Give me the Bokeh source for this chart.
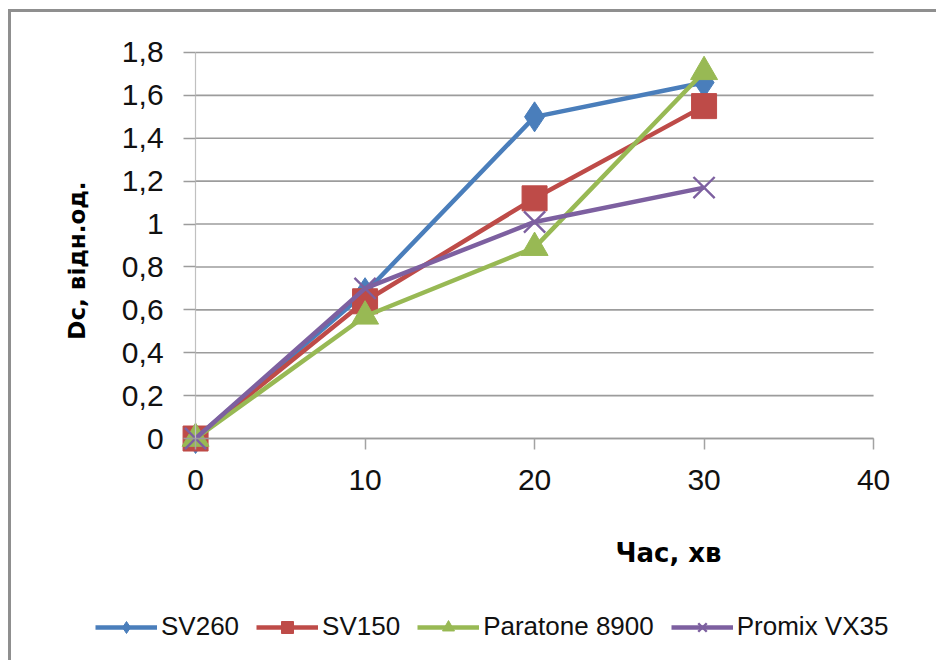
import math
from bokeh.plotting import figure
from bokeh.models import (FixedTicker, Label, Legend, LegendItem, Range1d)
from bokeh.embed import file_html
from bokeh.resources import INLINE

# ---- data ----
time_min = [0, 10, 20, 30]
sv260 = [0.0, 0.68, 1.50, 1.66]
sv150 = [0.0, 0.64, 1.12, 1.55]
paratone = [0.0, 0.57, 0.89, 1.71]
promix = [0.0, 0.70, 1.01, 1.17]

series_names = ["SV260", "SV150", "Paratone 8900", "Promix VX35"]
series_values = [sv260, sv150, paratone, promix]
series_colors = ["#4A7EBB", "#BE4B48", "#98B954", "#7D60A0"]
series_markers = ["diamond", "square", "triangle", "x"]
marker_sizes = [30, 25, 27, 30]

x_ticks = [0, 10, 20, 30, 40]
y_ticks = [0, 0.2, 0.4, 0.6, 0.8, 1.0, 1.2, 1.4, 1.6, 1.8]
y_tick_labels = ["0", "0,2", "0,4", "0,6", "0,8", "1", "1,2", "1,4", "1,6", "1,8"]

x_title = "Час, хв"
y_title = "Dc, відн.од."

FONT = "Liberation Sans"
TITLE_FONT = "DejaVu Sans"
GRID = "#9c9c9c"

# the plot frame fills the whole figure; axes are pinned at x=0 / y=0
p = figure(width=928, height=651, output_backend="svg", toolbar_location=None,
           x_range=Range1d(-10.86, 43.89), y_range=Range1d(-1.049, 1.9865),
           min_border=0, min_border_left=0, min_border_right=0,
           min_border_top=0, min_border_bottom=0)
p.styles = {"margin-left": "8px", "margin-top": "9px",
            "border-left": "3px solid #8f8f8f", "border-top": "3px solid #8f8f8f"}
p.outline_line_color = None
p.background_fill_color = "white"
p.border_fill_color = "white"
p.xgrid.visible = False
p.ygrid.visible = False

# horizontal gridlines spanning the x-axis extent
n = len(y_ticks)
p.segment(x0=[x_ticks[0]] * n, y0=y_ticks, x1=[x_ticks[-1]] * n, y1=y_ticks,
          line_color=GRID, line_width=1.6)

# y axis at x = 0
yax = p.yaxis[0]
yax.fixed_location = 0
yax.bounds = (0, 1.8)
yax.ticker = FixedTicker(ticks=y_ticks)
yax.major_label_overrides = {t: l for t, l in zip(y_ticks, y_tick_labels)}
yax.axis_line_color = "#c0c0c0"
yax.axis_line_width = 1.2
yax.major_tick_line_color = GRID
yax.major_tick_line_width = 1.6
yax.minor_tick_line_color = None
yax.major_tick_out = 12
yax.major_tick_in = 0
yax.major_label_standoff = 20
yax.major_label_text_font = FONT
yax.major_label_text_font_size = "30px"
yax.major_label_text_color = "#111111"

# x axis at y = 0
xax = p.xaxis[0]
xax.fixed_location = 0
xax.bounds = (0, 40)
xax.ticker = FixedTicker(ticks=x_ticks)
xax.axis_line_color = GRID
xax.axis_line_width = 1.6
xax.major_tick_line_color = "#a3a3a3"
xax.major_tick_line_width = 1.5
xax.major_tick_in = 0
xax.major_tick_out = 11
xax.minor_tick_line_color = None
xax.major_label_standoff = 20
xax.major_label_text_font = FONT
xax.major_label_text_font_size = "30px"
xax.major_label_text_color = "#111111"

# axis titles placed as in the original
p.add_layout(Label(x=27.9, y=-0.536, text=x_title, text_align="center",
                   text_baseline="middle", text_font=TITLE_FONT,
                   text_font_style="bold", text_font_size="26px",
                   text_color="#000000"))
p.add_layout(Label(x=-7.0, y=0.83, text=y_title, angle=math.pi / 2,
                   text_align="center", text_baseline="middle",
                   text_font=TITLE_FONT, text_font_style="bold",
                   text_font_size="23px", text_color="#000000"))

items = []
for name, vals, col, mk, ms in zip(series_names, series_values, series_colors,
                                   series_markers, marker_sizes):
    ln = p.line(time_min, vals, line_color=col, line_width=4.5)
    if mk == "x":
        sc = p.scatter(time_min, vals, marker=mk, size=ms, line_color=col,
                       line_width=2.4)
    else:
        sc = p.scatter(time_min, vals, marker=mk, size=ms, fill_color=col,
                       line_color=col, line_width=1)
    items.append(LegendItem(label=name, renderers=[ln, sc]))

legend = Legend(items=items, orientation="horizontal",
                location=(84, 21), glyph_width=62, glyph_height=30,
                label_standoff=4, spacing=17, padding=0, margin=0,
                label_text_font=FONT, label_text_font_size="26px",
                label_text_color="#111111", border_line_color=None,
                background_fill_alpha=0)
p.add_layout(legend)

open("out.html", "w").write(file_html(p, INLINE))
